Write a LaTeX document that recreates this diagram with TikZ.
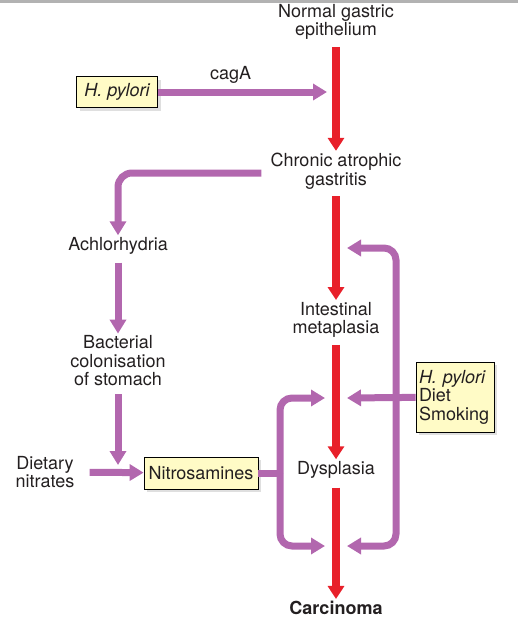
\documentclass[tikz,border=0pt]{standalone}
\usepackage{fontspec}
\setmainfont{TeX Gyre Heros}
\usetikzlibrary{arrows.meta, positioning, shadows}
\definecolor{mred}{HTML}{E8202A}
\definecolor{mpurp}{HTML}{B267AE}
\definecolor{mcream}{HTML}{FFFBC6}
\definecolor{mtext}{HTML}{231F20}
\tikzstyle{stage} = [align=center, text=mtext, inner sep=2pt]
\tikzstyle{factor} = [rectangle, draw=black, line width=0.8pt, fill=mcream, text=mtext, inner sep=3pt, drop shadow={shadow xshift=3pt, shadow yshift=-3pt, opacity=0.25}]
\tikzstyle{progress} = [line width=8pt, mred, -{Triangle[length=13pt,width=16pt]}]
\tikzstyle{pathway} = [line width=7pt, mpurp, -{Triangle[length=14pt,width=16pt]}]
\tikzstyle{feed} = [line width=7pt, mpurp]
\begin{document}
\begin{tikzpicture}[x=1pt, y=-1pt, font=\fontsize{18}{18.5}\selectfont]
  \useasboundingbox (0,0) rectangle (518,627);
  \fill [gray!60] (0,0) rectangle (518,3);
  % main sequence
  \node (normal) [stage] at (336,22) {Normal gastric\\epithelium};
  \node (chronic) [stage] at (336,171) {Chronic atrophic\\gastritis};
  \node (intest) [stage] at (336,320) {Intestinal\\metaplasia};
  \node (dysp) [stage] at (336,470) {Dysplasia};
  \node (carc) [stage, font=\fontsize{18}{18.5}\selectfont\bfseries] at (336,608) {Carcinoma};
  \draw [progress, shorten <=5pt] (normal) -- (chronic);
  \draw [progress, shorten <=5pt] (chronic) -- (intest);
  \draw [progress, shorten <=5pt] (intest) -- (dysp);
  \draw [progress, shorten <=7pt] (dysp) -- (carc);
  % left branch
  \node (hpa) [factor, font=\fontsize{18}{18.5}\selectfont\itshape, minimum width=81pt, minimum height=31pt] at (117,92) {H. pylori};
  \node (achl) [stage] at (118,246) {Achlorhydria};
  \node (bact) [stage] at (118,361) {Bacterial\\colonisation\\of stomach};
  \node (diet) [stage] at (45,472) {Dietary\\nitrates};
  \node (nitro) [factor, minimum width=114pt, minimum height=32pt] at (201,473) {Nitrosamines};
  \coordinate (mix) at (118,472);
  \draw [pathway] (hpa) -- node[above=2pt, pos=0.43, text=mtext] {cagA} ([xshift=-9pt]hpa -| normal);
  \draw [pathway, rounded corners=14pt] ([xshift=-7pt,yshift=-2pt]chronic.west) -| (achl.north);
  \draw [pathway, shorten <=6pt] (achl) -- (bact);
  \draw [pathway, shorten <=6pt] (bact) -- ([yshift=7pt]mix);
  \draw [pathway, shorten <=13pt] (diet) -- (nitro);
  % nitrosamines loop
  \coordinate (lsplit) at (280,473);
  \coordinate (ltop) at (325,398);
  \coordinate (lbot) at (325,546);
  \draw [feed] (nitro) -- (lsplit);
  \draw [pathway, rounded corners=12pt] (lsplit) |- (ltop);
  \draw [pathway, rounded corners=12pt] (lsplit) |- (lbot);
  % right loop
  \node (hpb) [factor, align=left, text width=72pt, minimum height=70pt] at (455,397) {\textit{H. pylori}\\Diet\\Smoking};
  \coordinate (rsplit) at (396,398);
  \coordinate (rtop) at (347,248);
  \coordinate (rmid) at (347,398);
  \coordinate (rbot) at (347,546);
  \draw [pathway] (hpb) -- (rmid);
  \draw [pathway, rounded corners=12pt] (rsplit) |- (rtop);
  \draw [pathway, rounded corners=12pt] (rsplit) |- (rbot);
\end{tikzpicture}
\end{document}
